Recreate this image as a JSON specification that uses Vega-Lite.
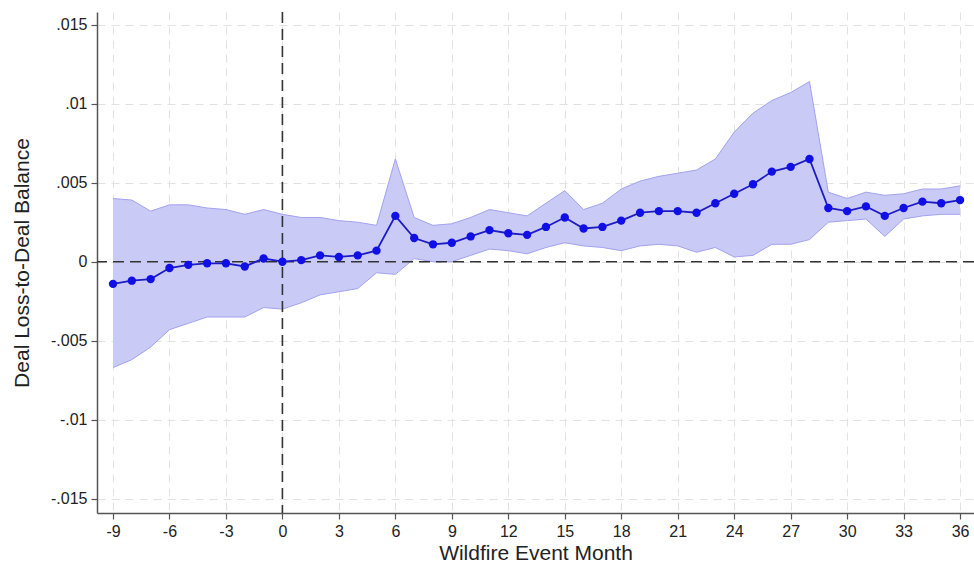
{
  "$schema": "https://vega.github.io/schema/vega-lite/v6.json",
  "width": 877,
  "height": 501,
  "autosize": "none",
  "padding": {"left": 97, "top": 12, "right": 0, "bottom": 54},
  "background": "white",
  "config": {
    "view": {"stroke": null},
    "font": "Liberation Sans",
    "axis": {
      "labelFont": "Liberation Sans",
      "titleFont": "Liberation Sans",
      "labelFontSize": 16,
      "titleFontSize": 21,
      "titleFontWeight": "normal",
      "labelColor": "#222",
      "titleColor": "#222",
      "domainColor": "#555",
      "tickColor": "#555",
      "domainWidth": 1.5,
      "tickWidth": 1.2,
      "tickSize": 6,
      "gridColor": "#e2e2e2",
      "gridDash": [8, 6],
      "gridWidth": 1
    }
  },
  "datasets": {
    "est": [
      {"m": -9, "b": -0.0014, "lo": -0.0067, "hi": 0.0040},
      {"m": -8, "b": -0.0012, "lo": -0.0062, "hi": 0.0039},
      {"m": -7, "b": -0.0011, "lo": -0.0054, "hi": 0.0032},
      {"m": -6, "b": -0.0004, "lo": -0.0043, "hi": 0.0036},
      {"m": -5, "b": -0.0002, "lo": -0.0039, "hi": 0.0036},
      {"m": -4, "b": -0.0001, "lo": -0.0035, "hi": 0.0034},
      {"m": -3, "b": -0.0001, "lo": -0.0035, "hi": 0.0033},
      {"m": -2, "b": -0.0003, "lo": -0.0035, "hi": 0.0030},
      {"m": -1, "b": 0.0002, "lo": -0.0029, "hi": 0.0033},
      {"m": 0, "b": 0.0, "lo": -0.0030, "hi": 0.0030},
      {"m": 1, "b": 0.0001, "lo": -0.0026, "hi": 0.0028},
      {"m": 2, "b": 0.0004, "lo": -0.0021, "hi": 0.0028},
      {"m": 3, "b": 0.0003, "lo": -0.0019, "hi": 0.0026},
      {"m": 4, "b": 0.0004, "lo": -0.0017, "hi": 0.0025},
      {"m": 5, "b": 0.0007, "lo": -0.0007, "hi": 0.0023},
      {"m": 6, "b": 0.0029, "lo": -0.0008, "hi": 0.0065},
      {"m": 7, "b": 0.0015, "lo": 0.0002, "hi": 0.0028},
      {"m": 8, "b": 0.0011, "lo": 0.0000, "hi": 0.0023},
      {"m": 9, "b": 0.0012, "lo": 0.0000, "hi": 0.0024},
      {"m": 10, "b": 0.0016, "lo": 0.0004, "hi": 0.0028},
      {"m": 11, "b": 0.0020, "lo": 0.0008, "hi": 0.0033},
      {"m": 12, "b": 0.0018, "lo": 0.0007, "hi": 0.0031},
      {"m": 13, "b": 0.0017, "lo": 0.0005, "hi": 0.0029},
      {"m": 14, "b": 0.0022, "lo": 0.0009, "hi": 0.0037},
      {"m": 15, "b": 0.0028, "lo": 0.0012, "hi": 0.0045},
      {"m": 16, "b": 0.0021, "lo": 0.0010, "hi": 0.0033},
      {"m": 17, "b": 0.0022, "lo": 0.0009, "hi": 0.0037},
      {"m": 18, "b": 0.0026, "lo": 0.0007, "hi": 0.0046},
      {"m": 19, "b": 0.0031, "lo": 0.0010, "hi": 0.0051},
      {"m": 20, "b": 0.0032, "lo": 0.0011, "hi": 0.0054},
      {"m": 21, "b": 0.0032, "lo": 0.0010, "hi": 0.0056},
      {"m": 22, "b": 0.0031, "lo": 0.0006, "hi": 0.0058},
      {"m": 23, "b": 0.0037, "lo": 0.0009, "hi": 0.0065},
      {"m": 24, "b": 0.0043, "lo": 0.0003, "hi": 0.0082},
      {"m": 25, "b": 0.0049, "lo": 0.0004, "hi": 0.0094},
      {"m": 26, "b": 0.0057, "lo": 0.0011, "hi": 0.0102},
      {"m": 27, "b": 0.0060, "lo": 0.0011, "hi": 0.0107},
      {"m": 28, "b": 0.0065, "lo": 0.0014, "hi": 0.0114},
      {"m": 29, "b": 0.0034, "lo": 0.0025, "hi": 0.0044},
      {"m": 30, "b": 0.0032, "lo": 0.0026, "hi": 0.0040},
      {"m": 31, "b": 0.0035, "lo": 0.0027, "hi": 0.0044},
      {"m": 32, "b": 0.0029, "lo": 0.0016, "hi": 0.0042},
      {"m": 33, "b": 0.0034, "lo": 0.0027, "hi": 0.0043},
      {"m": 34, "b": 0.0038, "lo": 0.0029, "hi": 0.0046},
      {"m": 35, "b": 0.0037, "lo": 0.0030, "hi": 0.0046},
      {"m": 36, "b": 0.0039, "lo": 0.0030, "hi": 0.0048}
    ],
    "ref": [{"x0": 0, "y0": 0}]
  },
  "layer": [
    {
      "data": {"name": "est"},
      "mark": {"type": "area", "color": "#cacaf7", "opacity": 1},
      "encoding": {
        "x": {
          "field": "m", "type": "quantitative",
          "scale": {"domain": [-9.85, 36.74], "nice": false, "zero": false},
          "axis": {
            "title": "Wildfire Event Month",
            "values": [-9, -6, -3, 0, 3, 6, 9, 12, 15, 18, 21, 24, 27, 30, 33, 36],
            "labelExpr": "toString(datum.value)",
            "grid": true,
            "labelPadding": 4,
            "titlePadding": 3
          }
        },
        "y": {
          "field": "lo", "type": "quantitative",
          "scale": {"domain": [-0.0159, 0.0158], "nice": false, "zero": false},
          "axis": {
            "title": "Deal Loss-to-Deal Balance",
            "values": [-0.015, -0.01, -0.005, 0, 0.005, 0.01, 0.015],
            "labelExpr": "datum.value == 0 ? '0' : (datum.value < 0 ? '-' : '') + replace(toString(abs(datum.value)), '0.', '.')",
            "grid": true,
            "labelPadding": 4,
            "titlePadding": 18
          }
        },
        "y2": {"field": "hi"}
      }
    },
    {
      "data": {"name": "est"},
      "mark": {"type": "line", "color": "#a2a2ef", "strokeWidth": 1},
      "encoding": {
        "x": {"field": "m", "type": "quantitative"},
        "y": {"field": "hi", "type": "quantitative"}
      }
    },
    {
      "data": {"name": "est"},
      "mark": {"type": "line", "color": "#a2a2ef", "strokeWidth": 1},
      "encoding": {
        "x": {"field": "m", "type": "quantitative"},
        "y": {"field": "lo", "type": "quantitative"}
      }
    },
    {
      "data": {"name": "ref"},
      "mark": {"type": "rule", "color": "#333", "strokeWidth": 1.6, "strokeDash": [11, 6]},
      "encoding": {"y": {"field": "y0", "type": "quantitative"}}
    },
    {
      "data": {"name": "ref"},
      "mark": {"type": "rule", "color": "#333", "strokeWidth": 1.6, "strokeDash": [11, 6]},
      "encoding": {"x": {"field": "x0", "type": "quantitative"}}
    },
    {
      "data": {"name": "est"},
      "mark": {"type": "line", "color": "#1c1cc4", "strokeWidth": 1.8},
      "encoding": {
        "x": {"field": "m", "type": "quantitative"},
        "y": {"field": "b", "type": "quantitative"}
      }
    },
    {
      "data": {"name": "est"},
      "mark": {"type": "point", "filled": true, "color": "#0f0fe6", "opacity": 1, "size": 70},
      "encoding": {
        "x": {"field": "m", "type": "quantitative"},
        "y": {"field": "b", "type": "quantitative"}
      }
    }
  ]
}
